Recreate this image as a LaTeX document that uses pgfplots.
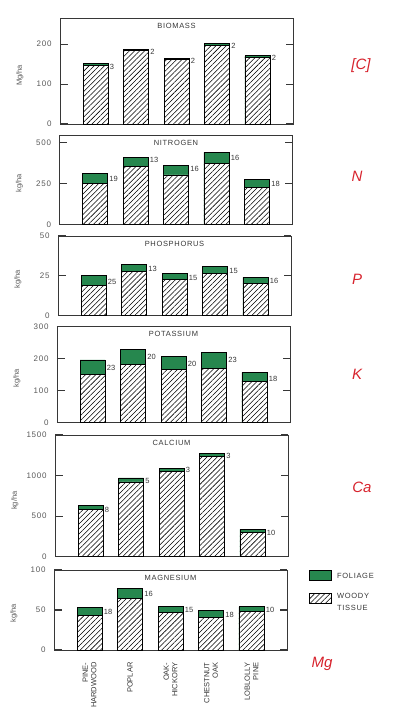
\documentclass[border=0pt]{standalone}
\usepackage{pgfplots}
\pgfplotsset{compat=1.18}
\usetikzlibrary{patterns.meta}
\usepackage{fontspec}
\setmainfont{Liberation Sans}
\newfontfamily\lettering{Liberation Sans}[LetterSpace=9]
\definecolor{foliage}{RGB}{38,135,78}
\definecolor{ink}{RGB}{55,55,55}
\definecolor{anno}{RGB}{215,35,45}

\pgfplotsset{
  panel/.style={
    scale only axis, width=233pt,
    xmin=-0.877, xmax=4.877, ymin=0,
    xtick=\empty,
    ytick pos=both, ytick align=inside, major tick length=7.5pt,
    ytick style={draw=ink, line width=1.1pt},
    axis line style={line width=0.9pt, draw=ink},
    scaled y ticks=false,
    /pgf/number format/assume math mode=true,
    /pgf/number format/1000 sep={},
    yticklabel style={font=\lettering\fontsize{8}{8}\selectfont, text=black!65, xshift=-5pt},
    every axis y label/.style={at={(axis description cs:-0.172,0.46)}, rotate=90, anchor=center, font=\fontsize{7.5}{8}\selectfont, text=black!65},
    title style={at={(0.5,1)}, anchor=north, yshift=-7.5pt, font=\lettering\fontsize{7.5}{8}\selectfont, text=ink},
    clip=false,
  },
  fol/.style={ybar, bar width=25pt, bar shift=0pt, fill=foliage, draw=black, line width=0.8pt},
  wood/.style={ybar, bar width=25pt, bar shift=0pt, fill=white, draw=black, line width=0.8pt,
    postaction={pattern={Lines[angle=45,distance=3.6pt,line width=0.55pt]}}},
  pct/.style={draw=none, mark=none, nodes near coords, point meta=explicit symbolic,
    nodes near coords style={anchor=west, inner sep=0.5pt, font=\fontsize{7.5}{8}\selectfont, text=ink}},
}

\begin{document}
\begin{tikzpicture}
\useasboundingbox (0,0) rectangle (398pt,-720pt);

% BIOMASS
\begin{axis}[panel, at={(60pt,-124pt)}, anchor=south west, height=105.7pt,
  ymax=265, ytick={0,100,200}, ylabel={Mg/ha}, title={BIOMASS}]
\addplot[fol] coordinates {(0,151) (1,188) (2,165) (3,201) (4,171)};
\addplot[wood] coordinates {(0,146.5) (1,184.2) (2,161.7) (3,197.0) (4,167.6)};
\addplot[pct] coordinates {(0.34,143) [3] (1.34,182) [2] (2.34,157) [2] (3.34,196) [2] (4.34,165) [2]};
\end{axis}

% NITROGEN
\begin{axis}[panel, at={(59.5pt,-224.3pt)}, anchor=south west, height=89.3pt,
  ymax=545, ytick={0,250,500}, ylabel={kg/ha}, title={NITROGEN}]
\addplot[fol] coordinates {(0,311) (1,408) (2,358) (3,439) (4,274)};
\addplot[wood] coordinates {(0,252) (1,355) (2,301) (3,369) (4,225)};
\addplot[pct] coordinates {(0.34,280) [19] (1.34,392) [13] (2.34,335) [16] (3.34,406) [16] (4.34,246) [18]};
\end{axis}

% PHOSPHORUS
\begin{axis}[panel, at={(58pt,-315.7pt)}, anchor=south west, height=79.7pt,
  ymax=50, ytick={0,25,50}, ylabel={kg/ha}, title={PHOSPHORUS}]
\addplot[fol] coordinates {(0,25.0) (1,32.1) (2,26.5) (3,31.0) (4,24.0)};
\addplot[wood] coordinates {(0,18.8) (1,27.9) (2,22.5) (3,26.4) (4,20.2)};
\addplot[pct] coordinates {(0.34,21.2) [25] (1.34,29.2) [13] (2.34,23.75) [15] (3.34,28.1) [15] (4.34,21.7) [16]};
\end{axis}

% POTASSIUM
\begin{axis}[panel, at={(57pt,-422.3pt)}, anchor=south west, height=96pt,
  ymax=300, ytick={0,100,200,300}, ylabel={kg/ha}, title={POTASSIUM}]
\addplot[fol] coordinates {(0,195) (1,228) (2,205) (3,219) (4,156)};
\addplot[wood] coordinates {(0,150) (1,182) (2,164) (3,169) (4,128)};
\addplot[pct] coordinates {(0.34,171) [23] (1.34,205) [20] (2.34,182) [20] (3.34,195) [23] (4.34,137) [18]};
\end{axis}

% CALCIUM
\begin{axis}[panel, at={(55pt,-556.7pt)}, anchor=south west, height=121.7pt,
  ymax=1500, ytick={0,500,1000,1500}, ylabel={kg/ha}, title={CALCIUM}]
\addplot[fol] coordinates {(0,627) (1,971) (2,1086) (3,1270) (4,336)};
\addplot[wood] coordinates {(0,577) (1,922) (2,1053) (3,1232) (4,302)};
\addplot[pct] coordinates {(0.34,582) [8] (1.34,930) [5] (2.34,1066) [3] (3.34,1238) [3] (4.34,299) [10]};
\end{axis}

% MAGNESIUM
\begin{axis}[panel, at={(54pt,-650pt)}, anchor=south west, height=80pt,
  ymax=100, ytick={0,50,100}, ylabel={kg/ha}, title={MAGNESIUM},
  xtick={0,1,2,3,4},
  xticklabels={{PINE-\\HARDWOOD},{POPLAR},{OAK-\\HICKORY},{CHESTNUT\\OAK},{LOBLOLLY\\PINE}},
  xtick style={draw=none}, xticklabel shift=9pt,
  xticklabel style={rotate=90, anchor=east, align=right, font=\fontsize{7.5}{8.5}\selectfont, text=ink}]
\addplot[fol] coordinates {(0,53) (1,77) (2,55) (3,50) (4,54)};
\addplot[wood] coordinates {(0,43.5) (1,64.7) (2,46.8) (3,41) (4,48.6)};
\addplot[pct] coordinates {(0.34,47) [18] (1.34,70) [16] (2.34,50) [15] (3.34,44) [18] (4.34,50) [10]};
\end{axis}

% legend
\draw[line width=0.7pt, fill=foliage] (309pt,-570.5pt) rectangle (331pt,-580.5pt);
\node[anchor=west, font=\lettering\fontsize{7.5}{8}\selectfont, text=ink, inner sep=0pt] at (337pt,-575.5pt) {FOLIAGE};
\draw[line width=0.7pt, fill=white, postaction={pattern={Lines[angle=45,distance=3.6pt,line width=0.55pt]}}] (309pt,-593.5pt) rectangle (331pt,-603.5pt);
\node[anchor=north west, align=left, font=\lettering\fontsize{7.5}{12}\selectfont, text=ink, inner sep=0pt] at (337pt,-593pt) {WOODY\\TISSUE};

% handwritten annotations
\begin{scope}[every node/.style={text=anno, font=\fontsize{15}{15}\selectfont\itshape}]
\node at (361pt,-66pt) {[C]};
\node at (357pt,-176pt) {N};
\node at (357pt,-279pt) {P};
\node at (357pt,-374pt) {K};
\node at (362pt,-487pt) {Ca};
\node at (322pt,-664pt) {Mg};
\end{scope}
\end{tikzpicture}
\end{document}
